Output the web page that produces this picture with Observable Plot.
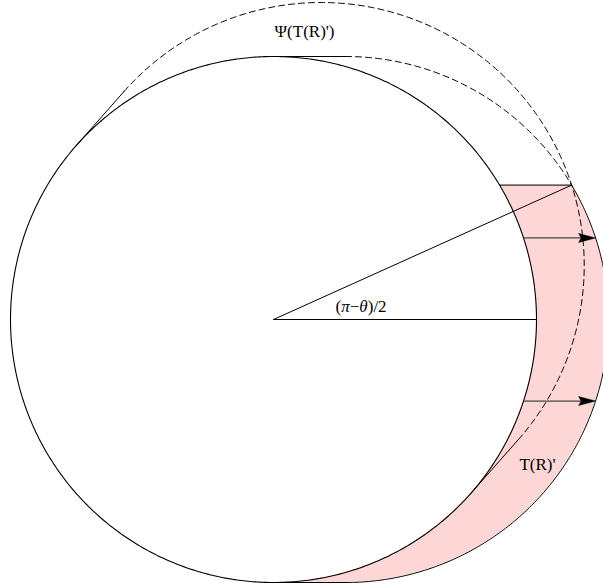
<!DOCTYPE html>
<html><head><meta charset="utf-8">
<script src="https://cdn.jsdelivr.net/npm/d3@7"></script>
<script src="https://cdn.jsdelivr.net/npm/@observablehq/plot@0.6"></script>
<style>body{margin:0;background:#fff}svg{display:block}</style>
</head><body><div id="chart"></div>
<script>
// ---- values (unit = radius of R, centre of R at origin) ----
const radius = [1];
const shiftT = [0.274];            // horizontal translation giving T(R)
const levelP = [0.511];            // height of the corner point P
const arrowLevels = [0.31, -0.31]; // heights of the two arrows
const labelText = ["Ψ(T(R)')", "(π−θ)/2", "T(R)'"];
const labelX = [0.118, 0.236, 0.935];
const labelY = [1.095, 0.049, -0.553];
const labelAnchor = ["middle", "start", "start"];

// ---- derived geometry ----
const r = radius[0], s = shiftT[0], h = levelP[0];
const Px = s + Math.sqrt(r*r - h*h);
const alpha = Math.atan2(h, Px);           // (π−θ)/2
const c2 = Math.cos(2*alpha), s2 = Math.sin(2*alpha);
const refl = ([x, y]) => [x*c2 + y*s2, x*s2 - y*c2];
const deg = Math.PI/180;
function arc(cx, cy, a0, a1) {
  const n = Math.max(2, Math.ceil(Math.abs(a1 - a0) / (0.5*deg)));
  return d3.range(n + 1).map(i => {
    const a = a0 + (a1 - a0) * i / n;
    return [cx + r*Math.cos(a), cy + r*Math.sin(a)];
  });
}
const phiP = Math.asin(h / r);
const mainCircle = arc(0, 0, 0, 2*Math.PI);
const cUpper = arc(s, 0, Math.PI/2, phiP);        // dashed
const cLower = arc(s, 0, phiP, -Math.PI/2);       // solid
const topSeg = [[0, r], [s, r]];
const botSeg = [[0, -r], [s, -r]];
const cRefl = arc(s*c2, s*s2, 2*alpha + Math.PI/2, 2*alpha - Math.PI/2); // dashed
const topSegR = topSeg.map(refl), botSegR = botSeg.map(refl);
const xInP = Math.sqrt(r*r - h*h);
// pink band
const bandYs = d3.range(0, 401).map(i => -r + (h + r) * i / 400);
const band = bandYs.map(y => ({y, x1: Math.sqrt(Math.max(0, r*r - y*y)), x2: s + Math.sqrt(Math.max(0, r*r - y*y))}));
// arrows
const arrows = arrowLevels.map(y => ({y, x1: Math.sqrt(r*r - y*y), x2: s + Math.sqrt(r*r - y*y)}));
const hl = 17/263, hw = 4.5/263;
const heads = arrows.map(a => [[a.x2, a.y], [a.x2 - hl, a.y + hw], [a.x2 - hl*0.85, a.y], [a.x2 - hl, a.y - hw], [a.x2, a.y]]);
const labels = labelText.map((t, i) => ({t, x: labelX[i], y: labelY[i], a: labelAnchor[i]}));

const line = (pts, opts = {}) => Plot.line(pts, {x: d => d[0], y: d => d[1], stroke: "black", strokeWidth: 1, curve: "linear", ...opts});
const dash = "6,4";
const textMark = (anchor) => Plot.text(labels.filter(d => d.a === anchor), {x: "x", y: "y", text: "t", textAnchor: anchor, fontSize: 17, fontFamily: "Liberation Serif", fill: "black", lineAnchor: "middle"});

const chart = Plot.plot({
  width: 603, height: 588,
  marginTop: 0, marginRight: 0, marginBottom: 0, marginLeft: 0,
  x: {domain: [-273/263, 330/263], axis: null},
  y: {domain: [-269/263, 319/263], axis: null},
  style: {background: "white"},
  marks: [
    Plot.areaX(band, {y: "y", x1: "x1", x2: "x2", fill: "#fdd6d6", curve: "linear"}),
    line([[0, 0], [Px, h]]),
    line([[0, 0], [r, 0]]),
    line(mainCircle, {strokeWidth: 1.1}),
    line(cUpper, {strokeDasharray: dash}),
    line(cLower),
    line(topSeg), line(botSeg),
    line(cRefl, {strokeDasharray: dash}),
    line(topSegR), line(botSegR),
    line([[xInP, h], [Px, h]]),
    Plot.link(arrows, {x1: "x1", y1: "y", x2: d => d.x2 - hl*0.8, y2: "y", stroke: "#444", strokeWidth: 1.2}),
    ...heads.map(hd => line(hd, {fill: "black", strokeWidth: 0.5})),
    textMark("middle"),
    textMark("start")
  ]
});
// italicise Greek symbols in the angle label
chart.querySelectorAll("text").forEach(t => {
  if (t.textContent === "(π−θ)/2") {
    t.innerHTML = "(<tspan font-style='italic'>π</tspan>−<tspan font-style='italic'>θ</tspan>)/2";
  }
});
document.getElementById("chart").appendChild(chart);
</script>
</body></html>
